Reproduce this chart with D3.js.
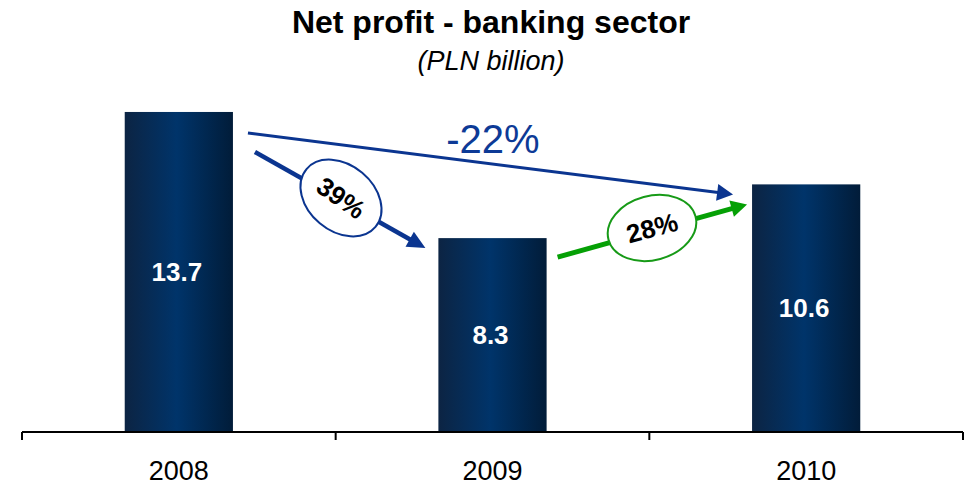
<!DOCTYPE html>
<html>
<head>
<meta charset="utf-8">
<script src="https://cdn.jsdelivr.net/npm/d3@7"></script>
<style>
  html, body { margin: 0; padding: 0; background: #ffffff; }
  svg { display: block; font-family: "Liberation Sans", Arial, sans-serif; }
</style>
</head>
<body>
<svg id="chart" width="964" height="485"></svg>
<script>
// Net profit of the banking sector, PLN billion
const years = ["2008", "2009", "2010"];
const profits = [13.7, 8.3, 10.6];
const valueLabels = ["13.7", "8.3", "10.6"];
// Change annotations: from index, to index, label
const changeFrom = [0, 0, 1];
const changeTo = [2, 1, 2];
const changeLabels = ["-22%", "39%", "28%"];

const svg = d3.select("#chart");

const x = d3.scaleBand()
  .domain(years)
  .range([22, 963])
  .paddingInner(0.655)
  .paddingOuter(0.3275);

const y = d3.scaleLinear()
  .domain([0, 15])
  .range([432, 81.6]);

// Horizontal gradient for the bars
const defs = svg.append("defs");
const grad = defs.append("linearGradient")
  .attr("id", "barGrad").attr("x1", "0%").attr("x2", "100%").attr("y1", "0%").attr("y2", "0%");
grad.append("stop").attr("offset", "0%").attr("stop-color", "#0c2443");
grad.append("stop").attr("offset", "48%").attr("stop-color", "#00346a");
grad.append("stop").attr("offset", "100%").attr("stop-color", "#011c39");

// Title
svg.append("text")
  .attr("x", 491).attr("y", 33)
  .attr("text-anchor", "middle")
  .attr("font-size", 32).attr("font-weight", "bold")
  .attr("fill", "#000")
  .text("Net profit - banking sector");
svg.append("text")
  .attr("x", 491).attr("y", 70)
  .attr("text-anchor", "middle")
  .attr("font-size", 27).attr("font-style", "italic")
  .attr("fill", "#000")
  .text("(PLN billion)");

// Bars
const data = years.map((yr, i) => ({ year: yr, value: profits[i], label: valueLabels[i] }));
svg.append("g").selectAll("rect")
  .data(data).join("rect")
  .attr("x", d => x(d.year))
  .attr("y", d => y(d.value))
  .attr("width", x.bandwidth())
  .attr("height", d => y(0) - y(d.value))
  .attr("fill", "url(#barGrad)");

svg.append("g").selectAll("text")
  .data(data).join("text")
  .attr("x", d => x(d.year) + x.bandwidth() / 2 - 2)
  .attr("y", d => (y(d.value) + y(0)) / 2)
  .attr("dy", "0.35em")
  .attr("text-anchor", "middle")
  .attr("font-size", 26).attr("font-weight", "bold")
  .attr("fill", "#ffffff")
  .text(d => d.label);

// Category axis: baseline with ticks between categories
const axis = svg.append("g");
const [r0, r1] = x.range();
axis.append("line")
  .attr("x1", r0).attr("x2", r1)
  .attr("y1", y(0)).attr("y2", y(0))
  .attr("stroke", "#000").attr("stroke-width", 2);
const tickPos = d3.range(years.length + 1).map(i => r0 + i * (r1 - r0) / years.length);
axis.selectAll("line.tick")
  .data(tickPos).join("line")
  .attr("class", "tick")
  .attr("x1", d => d).attr("x2", d => d)
  .attr("y1", y(0)).attr("y2", y(0) + 8)
  .attr("stroke", "#000").attr("stroke-width", 2);
axis.selectAll("text")
  .data(years).join("text")
  .attr("x", d => x(d) + x.bandwidth() / 2)
  .attr("y", 480)
  .attr("text-anchor", "middle")
  .attr("font-size", 27)
  .attr("fill", "#000")
  .text(d => d);

// Arrow helper: shaft plus a filled triangular head
function arrow(g, x1, y1, x2, y2, color, width, headLen, headW) {
  const ang = Math.atan2(y2 - y1, x2 - x1);
  const ux = Math.cos(ang), uy = Math.sin(ang);
  const bx = x2 - ux * headLen, by = y2 - uy * headLen;
  g.append("line")
    .attr("x1", x1).attr("y1", y1).attr("x2", bx + ux).attr("y2", by + uy)
    .attr("stroke", color).attr("stroke-width", width);
  const px = -uy, py = ux;
  g.append("path")
    .attr("d", `M${x2},${y2}L${bx + px * headW / 2},${by + py * headW / 2}L${bx - px * headW / 2},${by - py * headW / 2}Z`)
    .attr("fill", color);
}

const blue = "#0b3590";
const green = "#05a005";
const barLeft = i => x(years[i]);
const barRight = i => x(years[i]) + x.bandwidth();
const barTop = i => y(profits[i]);

const ann = svg.append("g");

// Overall change 2008 -> 2010
arrow(ann, barRight(changeFrom[0]) + 15, barTop(changeFrom[0]) + 21,
      barLeft(changeTo[0]) - 19, barTop(changeTo[0]) + 10, blue, 3, 16, 17);
ann.append("text")
  .attr("x", 493).attr("y", 153)
  .attr("text-anchor", "middle")
  .attr("font-size", 40)
  .attr("fill", "#0d3a96")
  .text(changeLabels[0]);

// Change 2008 -> 2009
{
  const x1 = barRight(changeFrom[1]) + 22, y1 = barTop(changeFrom[1]) + 40;
  const x2 = barLeft(changeTo[1]) - 13, y2 = barTop(changeTo[1]) + 10;
  arrow(ann, x1, y1, x2, y2, blue, 4.5, 18, 17);
  const cx = 341, cy = 198;
  ann.append("ellipse")
    .attr("cx", cx).attr("cy", cy).attr("rx", 45).attr("ry", 33)
    .attr("transform", `rotate(40,${cx},${cy})`)
    .attr("fill", "#fff").attr("stroke", blue).attr("stroke-width", 2);
  ann.append("text")
    .attr("x", cx).attr("y", cy)
    .attr("dy", "0.35em")
    .attr("text-anchor", "middle")
    .attr("transform", `rotate(35,${cx},${cy})`)
    .attr("font-size", 26).attr("font-weight", "bold")
    .attr("fill", "#000")
    .text(changeLabels[1]);
}

// Change 2009 -> 2010
{
  const x1 = barRight(changeFrom[2]) + 11, y1 = barTop(changeFrom[2]) + 19;
  const x2 = barLeft(changeTo[2]) - 5, y2 = barTop(changeTo[2]) + 20;
  arrow(ann, x1, y1, x2, y2, green, 5, 16, 17);
  const cx = 652, cy = 228;
  ann.append("ellipse")
    .attr("cx", cx).attr("cy", cy).attr("rx", 45).attr("ry", 32)
    .attr("transform", `rotate(-15,${cx},${cy})`)
    .attr("fill", "#fff").attr("stroke", "#179a17").attr("stroke-width", 2);
  ann.append("text")
    .attr("x", cx).attr("y", cy)
    .attr("dy", "0.35em")
    .attr("text-anchor", "middle")
    .attr("transform", `rotate(-15,${cx},${cy})`)
    .attr("font-size", 26).attr("font-weight", "bold")
    .attr("fill", "#000")
    .text(changeLabels[2]);
}
</script>
</body>
</html>
